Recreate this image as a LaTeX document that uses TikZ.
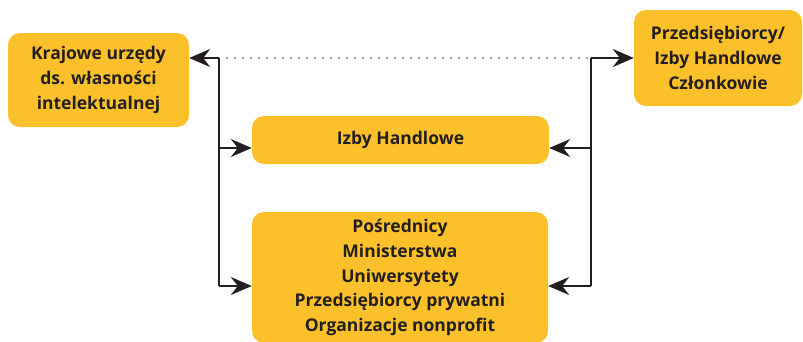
\documentclass[tikz,border=0pt]{standalone}
\usepackage{fontspec}
\setmainfont{Open Sans}
\usetikzlibrary{arrows.meta}
\definecolor{boxy}{HTML}{FCC12A}
\definecolor{txt}{HTML}{231F20}
\definecolor{dotg}{HTML}{A7A9AC}
\begin{document}
\begin{tikzpicture}[x=1pt,y=-1pt,
  ybox/.style={fill=boxy, rounded corners=12pt, draw=none, text=txt,
    font=\bfseries\fontsize{17.5}{24.6}\selectfont, align=center, inner sep=0pt},
  conn/.style={draw=txt, line width=1.6pt},
  arr/.style={conn, -{Stealth[length=21pt,width=18pt,inset=7pt]}},
  dotline/.style={draw=dotg, line width=3pt, line cap=round, dash pattern=on 0pt off 8pt}]
\useasboundingbox (0,0) rectangle (803,341);
\clip (0,0) rectangle (803,341);
\node[ybox, minimum width=181pt, minimum height=94pt] (kra) at (98.5,80) {Krajowe urzędy\\ds. własności\\intelektualnej};
\node[ybox, minimum width=168pt, minimum height=96pt] (prz) at (718,58) {Przedsiębiorcy/\\Izby Handlowe\\Członkowie};
\node[ybox, minimum width=297pt, minimum height=48pt] (izb) at (400.5,140) {Izby Handlowe};
\node[ybox, minimum width=296pt, minimum height=131pt] (pos) at (400,277.5) {Pośrednicy\\Ministerstwa\\Uniwersytety\\Przedsiębiorcy prywatni\\Organizacje nonprofit};
\coordinate (lt) at (219,58);
\coordinate (li) at (219,148);
\coordinate (lb) at (219,286);
\coordinate (rt) at (591,58);
\coordinate (ri) at (591,148);
\coordinate (rb) at (591,286);
\draw[dotline] (lt) -- (rt);
\draw[conn] (lt) -- (lb);
\draw[conn] (rt) -- (rb);
\draw[arr] (lt) -- (lt -| kra.east);
\draw[arr] (li) -- (li -| izb.west);
\draw[arr] (lb) -- (lb -| pos.west);
\draw[arr] (rt) -- (rt -| prz.west);
\draw[arr] (ri) -- (ri -| izb.east);
\draw[arr] (rb) -- (rb -| pos.east);
\end{tikzpicture}
\end{document}
